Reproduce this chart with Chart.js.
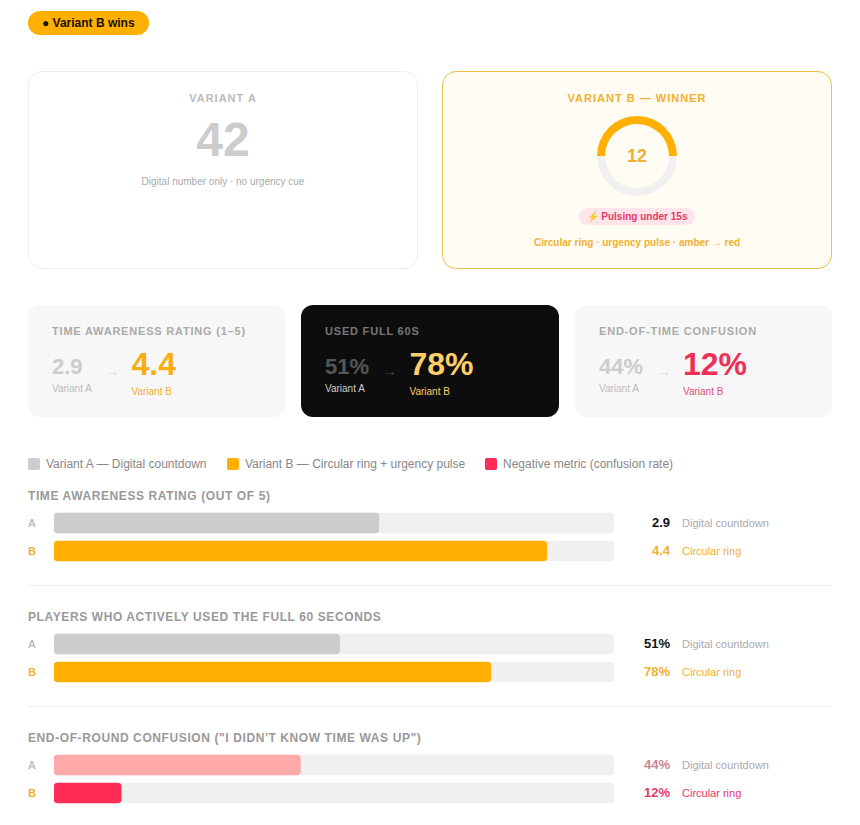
<!DOCTYPE html>
<html><head><meta charset="utf-8">
<script src="https://cdn.jsdelivr.net/npm/chart.js@4"></script>
<style>
*{box-sizing:border-box}
html,body{margin:0;padding:0;background:#fff;width:860px;height:825px;overflow:hidden;font-family:"Liberation Sans",Arial,sans-serif}
#page{position:relative;width:860px;height:825px}
.a{position:absolute;white-space:nowrap}
.c{transform:translateX(-50%)}
.card{position:absolute;border-radius:12px}
canvas{position:absolute;display:block}
</style></head><body><div id="page"></div>
<script>
const AMBER='#FFB000',RED='#FF2D55',GREY='#CCCCCC',PINK='#FFAAAA',TRACK='#F0F0F0';
const SOFT_AMBER='#F0B030',SOFT_RED='#E63A64';

const badgeText='● Variant B wins';
const ringValues=[50,50];
const ringNumber='12';
const digitalNumber='42';

const barCategories=['A','B'];
const barSeriesNames=['Digital countdown','Circular ring'];
const awarenessValues=[2.9,4.4];
const awarenessMax=[5,5];
const fullTimeValues=[51,78];
const fullTimeMax=[100,100];
const confusionValues=[44,12];
const confusionMax=[100,100];

const legendLabels=['Variant A — Digital countdown','Variant B — Circular ring + urgency pulse','Negative metric (confusion rate)'];
const sectionTitles=['TIME AWARENESS RATING (OUT OF 5)','PLAYERS WHO ACTIVELY USED THE FULL 60 SECONDS','END-OF-ROUND CONFUSION ("I DIDN\'T KNOW TIME WAS UP")'];
const statTitles=['TIME AWARENESS RATING (1–5)','USED FULL 60S','END-OF-TIME CONFUSION'];

const page=document.getElementById('page');
function box(x,y,w,h,css){const d=document.createElement('div');d.className='card';d.style.cssText=`left:${x}px;top:${y}px;width:${w}px;height:${h}px;${css||''}`;page.appendChild(d);return d;}
function text(s,x,cy,css,center){const d=document.createElement('div');d.className='a'+(center?' c':'');d.textContent=s;d.style.cssText=`left:${x}px;top:${cy-10}px;line-height:20px;${css||''}`;page.appendChild(d);return d;}

// badge
box(28,11,121,24,`background:${AMBER};border-radius:12px`);
text(badgeText,42,23,'font:bold 12px/20px "Liberation Sans";color:#1a1000');

// top cards
box(28,71,390,198,'background:#fff;border:1px solid #eeeeee;border-radius:14px');
text('VARIANT A',223,98,'font:bold 11px/20px "Liberation Sans";letter-spacing:1px;color:#bbbbbb',true);
text(digitalNumber,223,140,'font:bold 48px/20px "Liberation Sans";color:#cccccc',true);
text('Digital number only · no urgency cue',223,182,'font:10px/20px "Liberation Sans";color:#aaaaaa',true);

box(442,71,390,198,`background:#FFFCF3;border:1px solid #EFC048;border-radius:14px`);
text('VARIANT B — WINNER',637,98,`font:bold 11px/20px "Liberation Sans";letter-spacing:1px;color:${SOFT_AMBER}`,true);
text(ringNumber,637,156,`font:bold 18px/20px "Liberation Sans";color:${SOFT_AMBER}`,true);
box(579,208,116,17,'background:#FFE4EC;border-radius:9px');
text('⚡ Pulsing under 15s',637,216.5,`font:bold 10px/20px "Liberation Sans";color:${SOFT_RED}`,true);
text('Circular ring · urgency pulse · amber → red',637,243,`font:bold 10px/20px "Liberation Sans";color:${SOFT_AMBER}`,true);

// stat cards
const stats=[
 {x:28,w:257,bg:'#F7F7F7',title:'#aaaaaa',av:'2.9',bv:'4.4',ac:'#cccccc',bc:'#F8AE10',al:'#bbbbbb',bl:SOFT_AMBER,arrow:'#dddddd',arrX:105,bx:131.5},
 {x:301,w:258,bg:'#0D0D0D',title:'#777777',av:'51%',bv:'78%',ac:'#555555',bc:'#FFCF66',al:'#cccccc',bl:'#FFCF66',arrow:'#444444',arrX:382,bx:409.5},
 {x:575,w:257,bg:'#F7F7F7',title:'#aaaaaa',av:'44%',bv:'12%',ac:'#cccccc',bc:'#EE3056',al:'#bbbbbb',bl:'#DE5078',arrow:'#dddddd',arrX:656,bx:683}];
stats.forEach((s,i)=>{
 box(s.x,305,s.w,112,`background:${s.bg};border-radius:12px`);
 const l=s.x+24;
 text(statTitles[i],l,331,`font:bold 11px/20px "Liberation Sans";letter-spacing:.8px;color:${s.title}`);
 text(s.av,l,367,`font:bold 22px/20px "Liberation Sans";color:${s.ac}`);
 text('Variant A',l,389,`font:10px/20px "Liberation Sans";color:${s.al}`);
 text('→',s.arrX,371,`font:15px/20px "Liberation Sans";color:${s.arrow}`);
 text(s.bv,s.bx,364,`font:bold 32px/20px "Liberation Sans";color:${s.bc}`);
 text('Variant B',s.bx,392,`font:10px/20px "Liberation Sans";color:${s.bl}`);
});

// legend
[[28,GREY],[227,AMBER],[485,RED]].forEach(([x,c],i)=>{
 box(x,458,12,12,`background:${c};border-radius:2px`);
 text(legendLabels[i],x+18,464,'font:12px/20px "Liberation Sans";color:#888888');
});

// section charts
function barSection(idx,top,values,maxes,fill,fmt,valColors,noteColors){
 text(sectionTitles[idx],28,top-17,'font:bold 12px/20px "Liberation Sans";letter-spacing:.6px;color:#999999');
 const cv=document.createElement('canvas');
 cv.width=586;cv.height=56;cv.style.cssText=`left:28px;top:${top-4}px;width:586px;height:56px`;
 page.appendChild(cv);
 new Chart(cv,{type:'bar',data:{labels:barCategories,datasets:[
   {data:values,backgroundColor:fill,borderRadius:4,borderSkipped:false,barThickness:20,grouped:false,order:1},
   {data:maxes,backgroundColor:TRACK,borderRadius:4,borderSkipped:false,barThickness:20,grouped:false,order:2}
 ]},options:{indexAxis:'y',responsive:false,animation:false,events:[],
   layout:{padding:0},
   plugins:{legend:{display:false},tooltip:{enabled:false}},
   scales:{
    x:{display:false,min:0,max:maxes[0]},
    y:{afterFit(a){a.width=26;a.paddingTop=0;a.paddingBottom=0},grid:{display:false},border:{display:false},
       ticks:{crossAlign:'far',padding:0,labelOffset:1,font:{family:'"Liberation Sans"',size:11,weight:'bold'},
              color:c=>c.index===0?'#bbbbbb':SOFT_AMBER}}
   }}});
 values.forEach((v,i)=>{
  const cy=top+10+i*28;
  text(fmt(v),0,cy,`font:bold 13px/20px "Liberation Sans";color:${valColors[i]};left:auto;right:190px`);
  text(barSeriesNames[i],682,cy,`font:11px/20px "Liberation Sans";color:${noteColors[i]}`);
 });
}
barSection(0,513,awarenessValues,awarenessMax,[GREY,AMBER],v=>v.toFixed(1),['#111111',SOFT_AMBER],['#aaaaaa',SOFT_AMBER]);
barSection(1,634,fullTimeValues,fullTimeMax,[GREY,AMBER],v=>v+'%',['#111111',SOFT_AMBER],['#aaaaaa',SOFT_AMBER]);
barSection(2,755,confusionValues,confusionMax,[PINK,RED],v=>v+'%',['#C88890',SOFT_RED],['#aaaaaa',SOFT_RED]);
box(28,585,804,1,'background:#EEEEEE;border-radius:0');
box(28,706,804,1,'background:#EEEEEE;border-radius:0');

// ring
const rc=document.createElement('canvas');
rc.width=80;rc.height=80;rc.style.cssText='left:597px;top:116px;width:80px;height:80px';
page.appendChild(rc);
new Chart(rc,{type:'doughnut',data:{datasets:[{data:ringValues,backgroundColor:[AMBER,TRACK],borderWidth:0}]},
 options:{responsive:false,animation:false,events:[],cutout:32,rotation:-90,
  plugins:{legend:{display:false},tooltip:{enabled:false}}}});
</script></body></html>
